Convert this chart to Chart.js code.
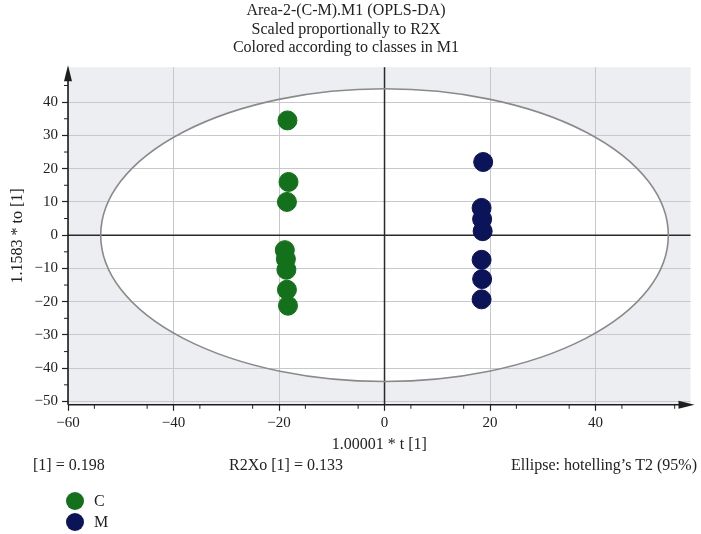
<!DOCTYPE html>
<html>
<head>
<meta charset="utf-8">
<script src="https://cdn.jsdelivr.net/npm/chart.js@4.4.1/dist/chart.umd.min.js"></script>
<style>
  html, body { margin: 0; padding: 0; background: #fff; }
  #wrap { position: relative; width: 701px; height: 534px; font-family: "Liberation Serif", "DejaVu Serif", serif; color: #222; }
  canvas { position: absolute; left: 0; top: 0; }
  .info { position: absolute; top: 456px; font-size: 16px; white-space: nowrap; }
  .leg { position: absolute; left: 66px; font-size: 16px; display: flex; align-items: center; }
  .dot { width: 18px; height: 18px; border-radius: 50%; display: inline-block; margin-right: 10px; }
</style>
</head>
<body>
<div id="wrap">
  <canvas id="c" width="701" height="534"></canvas>
  <div class="info" style="left:33px">[1] = 0.198</div>
  <div class="info" style="left:229px">R2Xo [1] = 0.133</div>
  <div class="info" style="right:4px">Ellipse: hotelling’s T2 (95%)</div>
  <div class="leg" style="top:492px"><span class="dot" style="background:#13711b"></span>C</div>
  <div class="leg" style="top:513px"><span class="dot" style="background:#0c1459"></span>M</div>
</div>
<script>
// ---- data ----
const titleLines = ["Area-2-(C-M).M1 (OPLS-DA)", "Scaled proportionally to R2X", "Colored according to classes in M1"];
const xLabel = "1.00001 * t [1]";
const yLabel = "1.1583 * to [1]";
const xTicks = [-60, -40, -20, 0, 20, 40];
const yTicks = [-50, -40, -30, -20, -10, 0, 10, 20, 30, 40];
const classC_t = [-18.4, -18.2, -18.5, -18.9, -18.7, -18.6, -18.5, -18.3];
const classC_to = [34.5, 16.0, 10.0, -4.5, -7.2, -10.4, -16.4, -21.2];
const classM_t = [18.7, 18.4, 18.5, 18.6, 18.4, 18.5, 18.4];
const classM_to = [22.0, 8.2, 4.8, 1.2, -7.4, -13.2, -19.3];
const ellipseA = 53.8;  // hotelling T2 semi-axis along t
const ellipseB = 44.0;  // semi-axis along to

const serif = '"Liberation Serif", "DejaVu Serif", serif';
const fmt = v => String(v).replace('-', '\u2212');

const bgPlugin = {
  id: 'bg',
  beforeDraw(chart) {
    const {ctx, chartArea: a, scales: {x, y}} = chart;
    ctx.save();
    ctx.fillStyle = '#eceef1';
    ctx.fillRect(a.left, a.top, a.right - a.left, a.bottom - a.top);
    const cx = x.getPixelForValue(0), cy = y.getPixelForValue(0);
    const rx = Math.abs(x.getPixelForValue(ellipseA) - cx);
    const ry = Math.abs(y.getPixelForValue(ellipseB) - cy);
    ctx.beginPath();
    ctx.ellipse(cx, cy, rx, ry, 0, 0, Math.PI * 2);
    ctx.fillStyle = '#ffffff';
    ctx.fill();
    ctx.restore();
  },
  beforeDatasetsDraw(chart) {
    const {ctx, chartArea: a, scales: {x, y}} = chart;
    ctx.save();
    const cx = x.getPixelForValue(0), cy = y.getPixelForValue(0);
    const rx = Math.abs(x.getPixelForValue(ellipseA) - cx);
    const ry = Math.abs(y.getPixelForValue(ellipseB) - cy);
    // zero lines
    ctx.strokeStyle = '#2a2a2a';
    ctx.lineWidth = 1.5;
    ctx.beginPath();
    ctx.moveTo(cx, a.top); ctx.lineTo(cx, a.bottom);
    ctx.moveTo(a.left, cy); ctx.lineTo(a.right, cy);
    ctx.stroke();
    // ellipse
    ctx.beginPath();
    ctx.ellipse(cx, cy, rx, ry, 0, 0, Math.PI * 2);
    ctx.strokeStyle = '#8a8a8a';
    ctx.lineWidth = 1.6;
    ctx.stroke();
    // minor ticks
    ctx.strokeStyle = '#222';
    ctx.lineWidth = 1;
    ctx.beginPath();
    for (let v = -55; v <= 55; v += 10) {
      const px = x.getPixelForValue(v);
      if (px > a.left + 2 && px < a.right - 6) { ctx.moveTo(px, a.bottom); ctx.lineTo(px, a.bottom + 4); }
    }
    for (let v = -45; v <= 45; v += 10) {
      const py = y.getPixelForValue(v);
      ctx.moveTo(a.left, py); ctx.lineTo(a.left - 4, py);
    }
    ctx.stroke();
    // axes with arrows
    ctx.strokeStyle = '#1e1e1e';
    ctx.fillStyle = '#1e1e1e';
    ctx.lineWidth = 1.6;
    ctx.beginPath();
    ctx.moveTo(a.left, a.bottom); ctx.lineTo(a.left, a.top + 6);
    ctx.moveTo(a.left, a.bottom); ctx.lineTo(a.right - 6, a.bottom);
    ctx.stroke();
    ctx.beginPath();
    ctx.moveTo(a.left, a.top - 2); ctx.lineTo(a.left - 4, a.top + 14); ctx.lineTo(a.left + 4, a.top + 14); ctx.closePath();
    ctx.fill();
    ctx.beginPath();
    ctx.moveTo(a.right + 4, a.bottom); ctx.lineTo(a.right - 12, a.bottom - 4); ctx.lineTo(a.right - 12, a.bottom + 4); ctx.closePath();
    ctx.fill();
    ctx.restore();
  }
};

new Chart(document.getElementById('c'), {
  type: 'scatter',
  data: {
    datasets: [
      { label: 'C', data: classC_t.map((v, i) => ({x: v, y: classC_to[i]})), backgroundColor: '#13711b', borderColor: '#13711b', pointRadius: 9.5, pointHoverRadius: 9.5 },
      { label: 'M', data: classM_t.map((v, i) => ({x: v, y: classM_to[i]})), backgroundColor: '#0c1459', borderColor: '#0c1459', pointRadius: 9.5, pointHoverRadius: 9.5 }
    ]
  },
  options: {
    responsive: false,
    animation: false,
    events: [],
    layout: { padding: { left: 0, right: 9, top: 0, bottom: 80 } },
    plugins: {
      legend: { display: false },
      tooltip: { enabled: false },
      title: {
        display: true,
        text: titleLines,
        color: '#222',
        font: { family: serif, size: 16, weight: 'normal', lineHeight: 1.15 },
        padding: { top: 2, bottom: 10 }
      }
    },
    scales: {
      x: {
        type: 'linear', min: -60, max: 58,
        afterBuildTicks: s => { s.ticks = xTicks.map(v => ({value: v})); },
        grid: { color: '#c6c8cb', lineWidth: 1, drawTicks: true, tickLength: 6, tickColor: '#222', tickWidth: 1.2 },
        border: { display: false },
        ticks: { color: '#222', font: { family: serif, size: 15 }, padding: 3, maxRotation: 0, callback: fmt },
        title: { display: true, text: xLabel, color: '#222', font: { family: serif, size: 16 }, padding: { top: 0, bottom: 0 } }
      },
      y: {
        type: 'linear', min: -51, max: 50.5,
        afterBuildTicks: s => { s.ticks = yTicks.map(v => ({value: v})); },
        afterFit: s => { s.width = 68; },
        grid: { color: '#c6c8cb', lineWidth: 1, drawTicks: true, tickLength: 6, tickColor: '#222', tickWidth: 1.2 },
        border: { display: false },
        ticks: { color: '#222', font: { family: serif, size: 15 }, padding: 4, callback: fmt },
        title: { display: true, text: yLabel, color: '#222', font: { family: serif, size: 16 }, padding: { top: 8, bottom: 4 } }
      }
    }
  },
  plugins: [bgPlugin]
});
</script>
</body>
</html>
